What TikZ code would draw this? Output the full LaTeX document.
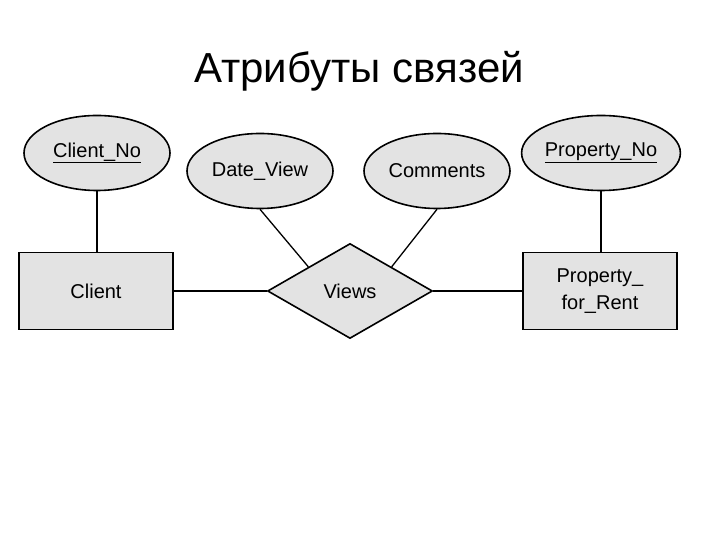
\documentclass[tikz,border=0pt]{standalone}
\usepackage{fontspec}
\setmainfont{Liberation Sans}
\usetikzlibrary{shapes.geometric}

\tikzset{
    attr/.style={ellipse,draw,line width=1.6pt,fill=gray!22,minimum width=146pt,minimum height=75pt,inner sep=0pt,font=\fontsize{20}{24}\selectfont},
    entity/.style={rectangle,draw,line width=1.6pt,fill=gray!22,minimum width=154pt,minimum height=77pt,inner sep=0pt,align=center,font=\fontsize{20}{27}\selectfont},
    relship/.style={diamond,draw,line width=1.6pt,fill=gray!22,minimum width=165pt,minimum height=95pt,inner sep=0pt,font=\fontsize{20}{24}\selectfont},
    link/.style={line width=1.3pt}
}

\begin{document}
\begin{tikzpicture}[x=1pt,y=1pt]
            \useasboundingbox (0,0) rectangle (720,540);
            \node[anchor=base,font=\fontsize{42}{48}\selectfont] (Title) at (359,457) {Атрибуты связей};
            \node[attr] (ClientNo) at (97,387) {\underline{Client\_No}};
            \node[attr] (DateView) at (260,369) {Date\_View};
            \node[attr] (Comments) at (437,369) {Comments};
            \node[attr] (PropertyNo) at (601,387) {\underline{Property\_No}};
            \node[entity] (Client) at (96,249) {Client};
            \node[relship] (Views) at (350,249) {Views};
            \node[entity] (Property) at (600,249) {Property\_\\for\_Rent};
            \draw[link] (ClientNo.south) -- (ClientNo.south |- Client.north);
            \draw[link] (PropertyNo.south) -- (PropertyNo.south |- Property.north);
            \draw[link] (DateView.south) -- (Views.north west);
            \draw[link] (Comments.south) -- (Views.north east);
            \draw[link] (Client.east) -- (Views.west);
            \draw[link] (Views.east) -- (Property.west);
        \end{tikzpicture}
\end{document}
